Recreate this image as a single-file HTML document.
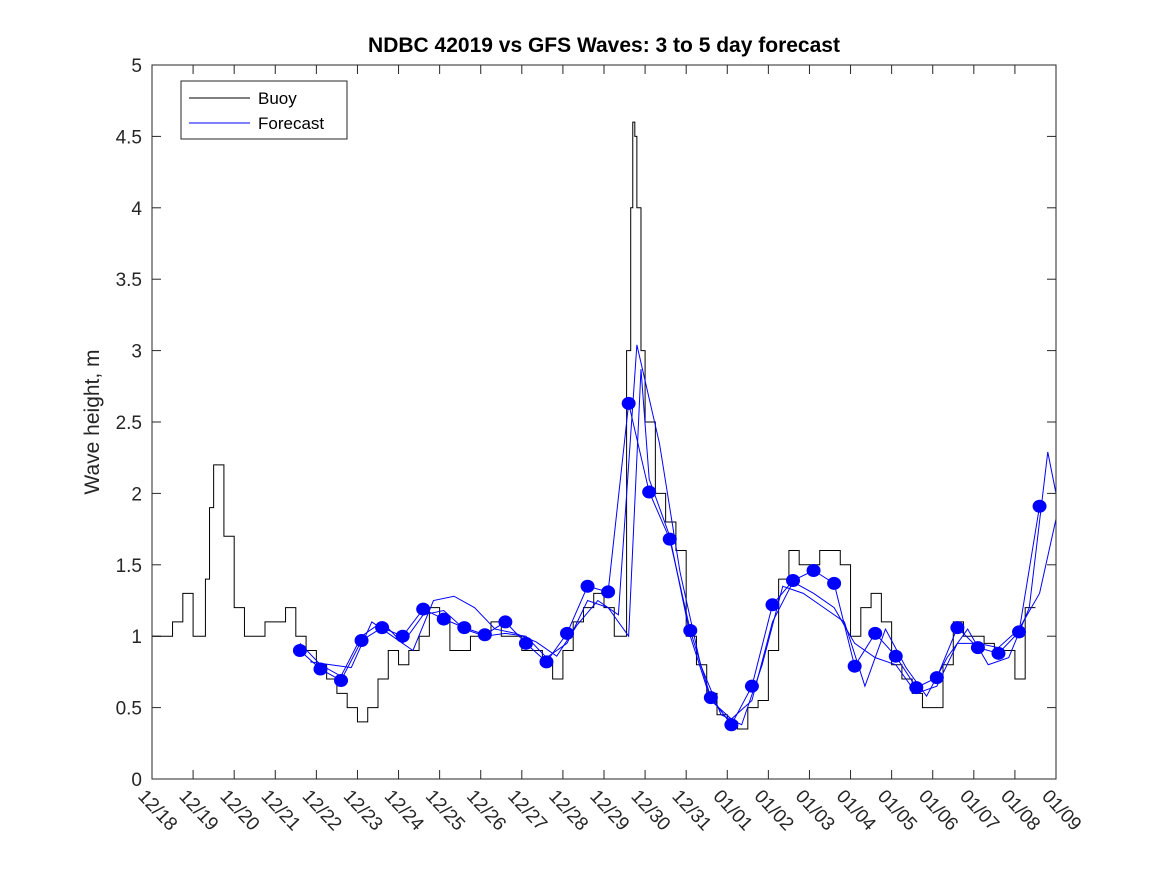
<!DOCTYPE html>
<html><head><meta charset="utf-8"><style>
body{margin:0;background:#fff;}
svg{display:block;font-family:"Liberation Sans","DejaVu Sans",sans-serif;}
</style></head><body>
<svg id="chart" width="1167" height="875" viewBox="0 0 1167 875">
<rect x="0" y="0" width="1167" height="875" fill="#fff"/>
<text x="604" y="52" text-anchor="middle" font-size="21" font-weight="bold" fill="#000">NDBC 42019 vs GFS Waves: 3 to 5 day forecast</text>
<text transform="translate(99,422) rotate(-90)" text-anchor="middle" font-size="21" fill="#262626">Wave height, m</text>
<g id="axes"></g>
<g id="series"></g>
<rect x="152" y="65" width="904" height="714" fill="none" stroke="#262626" stroke-width="1"/>
<g>
<rect x="181" y="81" width="166" height="58" fill="#fff" stroke="#262626" stroke-width="1"/>
<line x1="189" y1="98" x2="250" y2="98" stroke="#000" stroke-width="1"/>
<text x="258" y="104" font-size="17" fill="#000">Buoy</text>
<line x1="189" y1="123" x2="250" y2="123" stroke="#0000ff" stroke-width="1"/>
<text x="258" y="129" font-size="17" fill="#000">Forecast</text>
</g>
</svg>
<script>
const xTickLabels=["12/18","12/19","12/20","12/21","12/22","12/23","12/24","12/25","12/26","12/27","12/28","12/29","12/30","12/31","01/01","01/02","01/03","01/04","01/05","01/06","01/07","01/08","01/09"];
const yTickValues=[0,0.5,1,1.5,2,2.5,3,3.5,4,4.5,5];
const yTickLabels=["0","0.5","1","1.5","2","2.5","3","3.5","4","4.5","5"];
const buoyTimes=[0,0.25,0.5,0.75,1,1.25,1.3,1.4,1.5,1.75,2,2.25,2.5,2.75,3,3.25,3.5,3.75,4,4.25,4.5,4.75,5,5.25,5.5,5.75,6,6.25,6.5,6.75,7,7.25,7.5,7.75,8,8.25,8.5,8.75,9,9.25,9.5,9.75,10,10.25,10.5,10.75,11,11.25,11.45,11.55,11.65,11.7,11.75,11.8,11.9,12,12.25,12.5,12.75,13,13.25,13.5,13.75,14,14.25,14.5,14.75,15,15.25,15.5,15.75,16,16.25,16.5,16.75,17,17.25,17.5,17.75,18,18.25,18.5,18.75,19,19.25,19.5,19.75,20,20.25,20.5,20.75,21,21.25,21.5];
const buoyValues=[1.0,1.0,1.1,1.3,1.0,1.0,1.4,1.9,2.2,1.7,1.2,1.0,1.0,1.1,1.1,1.2,1.0,0.9,0.8,0.7,0.6,0.5,0.4,0.5,0.7,0.9,0.8,0.9,1.0,1.2,1.1,0.9,0.9,1.0,1.0,1.1,1.0,1.0,0.9,0.9,0.8,0.7,0.9,1.1,1.2,1.3,1.2,1.0,1.0,3.0,4.0,4.6,4.5,4.0,3.0,2.5,2.0,1.8,1.6,1.0,0.8,0.6,0.45,0.4,0.35,0.5,0.55,0.9,1.4,1.6,1.5,1.5,1.6,1.6,1.5,1.0,1.2,1.3,1.1,0.8,0.7,0.6,0.5,0.5,0.8,1.1,1.0,1.0,0.95,0.9,0.9,0.7,1.2,1.2];
const dotTimes=[3.6,4.1,4.6,5.1,5.6,6.1,6.6,7.1,7.6,8.1,8.6,9.1,9.6,10.1,10.6,11.1,11.6,12.1,12.6,13.1,13.6,14.1,14.6,15.1,15.6,16.1,16.6,17.1,17.6,18.1,18.6,19.1,19.6,20.1,20.6,21.1,21.6];
const dotValues=[0.9,0.77,0.69,0.97,1.06,1.0,1.19,1.12,1.06,1.01,1.1,0.95,0.82,1.02,1.35,1.31,2.63,2.01,1.68,1.04,0.57,0.38,0.65,1.22,1.39,1.46,1.37,0.79,1.02,0.86,0.64,0.71,1.06,0.92,0.88,1.03,1.91];
const runBTimes=[3.85,4.35,4.85,5.35,5.85,6.35,6.85,7.35,7.85,8.35,8.85,9.35,9.85,10.35,10.85,11.35,11.8,12.35,12.85,13.35,13.85,14.35,14.85,15.35,15.85,16.35,16.85,17.35,17.85,18.35,18.85,19.35,19.85,20.35,20.85,21.35,21.8,22];
const runBValues=[0.82,0.8,0.78,1.1,1.0,0.9,1.25,1.28,1.2,1.05,1.02,0.96,0.86,1.08,1.25,1.15,3.04,2.35,1.45,0.8,0.45,0.38,0.8,1.35,1.3,1.2,1.1,0.65,1.05,0.78,0.58,0.85,1.05,0.8,0.85,1.2,2.29,2.0];
const runCTimes=[3.6,4.1,4.6,5.1,5.6,6.1,6.6,7.1,7.6,8.1,8.6,9.1,9.6,10.1,10.6,11.1,11.6,11.9,12.1,12.6,13.1,13.6,14.1,14.6,15.1,15.6,16.1,16.6,17.1,17.6,18.1,18.6,19.1,19.6,20.1,20.6,21.1,21.6,22];
const runCValues=[0.95,0.8,0.72,1.0,1.1,0.95,1.15,1.18,1.05,1.0,1.02,1.0,0.85,0.95,1.25,1.2,1.0,2.87,2.1,1.7,1.0,0.55,0.42,0.55,1.1,1.38,1.3,1.2,0.95,0.85,0.8,0.6,0.65,0.95,0.95,0.92,1.05,1.3,1.82];

const X0=152,X1=1056,Y0=779,Y1=65;
const xs=t=>X0+(X1-X0)*t/22;
const ys=v=>Y0-(Y0-Y1)*v/5;
const NS="http://www.w3.org/2000/svg";
const axes=document.getElementById('axes');
const series=document.getElementById('series');
function mk(tag,attrs,parent){const e=document.createElementNS(NS,tag);for(const k in attrs)e.setAttribute(k,attrs[k]);parent.appendChild(e);return e;}

xTickLabels.forEach((lab,i)=>{
  const x=xs(i);
  const t1=mk('line',{x1:x,y1:Y0,x2:x,y2:Y0-9,stroke:'#262626'},axes);
  
  
  const t2=mk('line',{x1:x,y1:Y1,x2:x,y2:Y1+9,stroke:'#262626'},axes);
  
  
  const tx=mk('text',{transform:`translate(${x-15},${Y0+18}) rotate(47)`,'font-size':19,fill:'#262626'},axes);
  tx.textContent=lab;
  
  
});
yTickValues.forEach((v,i)=>{
  const y=ys(v);
  const t1=mk('line',{x1:X0,y1:y,x2:X0+9,y2:y,stroke:'#262626'},axes);
  
  
  const t2=mk('line',{x1:X1,y1:y,x2:X1-9,y2:y,stroke:'#262626'},axes);
  
  
  const tx=mk('text',{x:X0-10,y:y+7,'text-anchor':'end','font-size':19,fill:'#262626'},axes);
  tx.textContent=yTickLabels[i];
  
  
});

let d='';
buoyTimes.forEach((t,i)=>{
  const x=xs(t),y=ys(buoyValues[i]);
  if(i===0)d+=`M${x},${y}`;else d+=`H${x}V${y}`;
});
const bp=mk('path',{d:d,fill:'none',stroke:'#000','stroke-width':1},series);



function line(ts,vs,name){
  const p=mk('polyline',{points:ts.map((t,i)=>xs(t)+','+ys(vs[i])).join(' '),fill:'none',stroke:'#0000ff','stroke-width':1},series);
  
  
}
line(dotTimes,dotValues,'forecast-line-a');
line(runBTimes,runBValues,'forecast-line-b');
line(runCTimes,runCValues,'forecast-line-c');
dotTimes.forEach((t,i)=>{
  const c=mk('ellipse',{cx:xs(t),cy:ys(dotValues[i]),rx:7,ry:6.5,fill:'#0000ff'},series);
  
  
});
</script>
</body></html>
